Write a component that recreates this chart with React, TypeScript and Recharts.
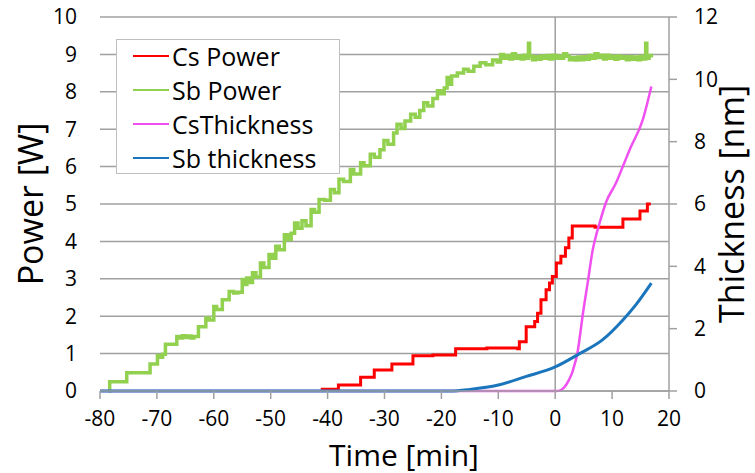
import React from 'react';
import { LineChart, Line, XAxis, YAxis, CartesianGrid, ReferenceLine, Legend } from 'recharts';

const timeTicks = [-80, -70, -60, -50, -40, -30, -20, -10, 0, 10, 20];
const powerTicks = [0, 1, 2, 3, 4, 5, 6, 7, 8, 9, 10];
const thicknessTicks = [0, 2, 4, 6, 8, 10, 12];

// [time min, power W]
const csPower: [number, number][] = [
  [-41.2, 0.05], [-38.1, 0.16], [-34.2, 0.37], [-31.8, 0.56], [-28.7, 0.72], [-25, 0.94],
  [-21.5, 0.96], [-17.5, 1.13], [-12, 1.15], [-6.6, 1.13], [-6.3, 1.32], [-5.1, 1.72],
  [-3.6, 1.86], [-3.1, 2.08], [-2.5, 2.44], [-1.6, 2.71], [-1.0, 2.89], [-0.5, 3.06],
  [0.2, 3.42], [1.0, 3.6], [1.8, 3.83], [2.4, 4.09], [3.0, 4.41], [7, 4.38], [11.9, 4.6],
  [14.9, 4.81], [16.2, 5.0], [16.8, 5.0],
];

const sbPower: [number, number][] = [
  [-78.4, 0], [-78.3, 0.25], [-75.3, 0.49], [-71.2, 0.72], [-69.9, 0.95], [-69.5, 0.9],
  [-69.0, 0.98], [-68.5, 1.25], [-66.5, 1.46], [-66.0, 1.42], [-65.5, 1.48], [-65, 1.43],
  [-64.5, 1.47], [-64, 1.42], [-63.5, 1.46], [-62.7, 1.72], [-61.4, 1.95], [-60.8, 1.9],
  [-60, 2.26], [-59.5, 2.18], [-58.5, 2.44], [-57.3, 2.66], [-56.5, 2.62], [-55.8, 2.64],
  [-55, 2.98], [-54.6, 2.85], [-54.2, 3.02], [-53.8, 2.9], [-53.2, 3.16], [-52.6, 3.05],
  [-51.8, 3.42], [-51.2, 3.3], [-50.3, 3.65], [-49.7, 3.55], [-49.1, 3.87], [-48.5, 3.78],
  [-47.6, 4.18], [-47, 4.05], [-46.4, 4.22], [-45.8, 4.49], [-45.2, 4.35], [-44.5, 4.55],
  [-43.8, 4.42], [-42.9, 4.85], [-42.3, 4.78], [-41.5, 5.12], [-40.5, 5.1], [-39.5, 5.39],
  [-38.8, 5.3], [-38, 5.66], [-37.2, 5.6], [-36, 5.92], [-35.4, 5.8], [-34.2, 6.1],
  [-33.6, 6.02], [-32.5, 6.33], [-31.8, 6.25], [-30.8, 6.45], [-30.1, 6.7], [-29.4, 6.6],
  [-28.4, 6.9], [-27.8, 7.13], [-27.1, 7.02], [-26.4, 7.22], [-25.4, 7.4], [-24.6, 7.32],
  [-23.8, 7.5], [-23.1, 7.71], [-22.4, 7.62], [-21.5, 7.82], [-20.7, 8.03], [-20.1, 7.95],
  [-19.5, 8.1], [-19, 8.38], [-18.6, 8.2], [-18.2, 8.42], [-17.2, 8.5], [-16.1, 8.6],
  [-15.3, 8.55], [-14.3, 8.68], [-13.2, 8.78], [-12.2, 8.72], [-11, 8.85], [-10.2, 8.8],
  [-9.6, 9.0], [-9.1, 8.9], [-8.5, 8.97], [-8.0, 8.88], [-7.5, 9.02], [-7.0, 8.9],
  [-6.5, 8.96], [-6.0, 8.88], [-5.5, 8.98], [-4.9, 8.9], [-4.7, 9.3], [-4.5, 8.95],
  [-4.0, 8.86], [-3.5, 8.94], [-3.0, 8.87], [-2.5, 8.96], [-2.0, 8.9], [-1.5, 8.97],
  [-1.0, 8.88], [-0.5, 8.98], [0, 8.9], [0.5, 8.96], [1.0, 8.9], [1.5, 9.02], [2.0, 8.95],
  [2.5, 8.86], [3.0, 8.92], [3.5, 8.85], [4.0, 8.93], [4.5, 8.86], [5.0, 8.94], [5.5, 8.87],
  [6, 8.97], [6.5, 8.9], [7, 9.02], [7.5, 8.92], [8, 8.98], [8.5, 8.88], [9, 8.98],
  [9.5, 8.9], [10, 8.95], [10.5, 8.87], [11, 8.96], [11.5, 8.9], [12, 8.94], [12.5, 8.86],
  [13, 8.94], [13.5, 8.87], [14, 8.93], [14.5, 8.86], [15, 8.95], [15.5, 8.88],
  [15.9, 9.3], [16.1, 8.9], [16.5, 8.97], [16.9, 8.92],
];

// [time min, thickness nm]
const csThickness: [number, number][] = [
  [-80, 0], [0.2, 0], [1.0, 0.03], [1.6, 0.12], [2.4, 0.35], [3.0, 0.6], [3.3, 0.78],
  [3.9, 1.21], [4.3, 1.7], [4.8, 2.39], [5.7, 3.46], [6.6, 4.53], [7.2, 5.0], [7.8, 5.39],
  [8.9, 6.04], [10.7, 6.68], [11.9, 7.21], [13.1, 7.75], [15.4, 8.71], [16.9, 9.77],
];

const sbThickness: [number, number][] = [
  [-80, 0], [-18.4, 0], [-15, 0.05], [-10, 0.19], [-5.2, 0.46], [0.1, 0.78], [4.2, 1.19],
  [8.3, 1.64], [11.9, 2.28], [14.2, 2.77], [16.9, 3.46],
];

const font = '"Open Sans", sans-serif';
const toPoints = (pairs: [number, number][]) => pairs.map(([x, y]) => ({ x, y }));

const series = [
  { name: 'Cs Power', color: '#ff0000', data: csPower, axis: 'left', type: 'stepAfter', width: 3 },
  { name: 'Sb Power', color: '#92d050', data: sbPower, axis: 'left', type: 'stepAfter', width: 3.5 },
  { name: 'CsThickness', color: '#f050f0', data: csThickness, axis: 'right', type: 'monotone', width: 2.5 },
  { name: 'Sb thickness', color: '#1a75bc', data: sbThickness, axis: 'right', type: 'monotone', width: 3 },
];

const renderLegend = () => (
  <div style={{ position: 'relative', width: 224, height: 135, boxSizing: 'border-box', border: '1px solid #bfbfbf', background: '#fff', fontFamily: font, fontSize: 25 }}>
    {series.map((s, i) => (
      <div key={s.name} style={{ position: 'absolute', left: 0, top: 16 + i * 34 - 17, height: 34, display: 'flex', alignItems: 'center' }}>
        <div style={{ marginLeft: 16, width: 36, height: 2.5, background: s.color }} />
        <span style={{ marginLeft: 3, lineHeight: '34px', color: '#000' }}>{s.name}</span>
      </div>
    ))}
  </div>
);

const App: React.FC = () => {
  const tickStyle = { fill: '#000', fontSize: 21, fontFamily: font };
  return (
    <div style={{ position: 'absolute', left: 0, top: 0, background: '#fff' }}>
      <LineChart width={755} height={473} margin={{ top: 17, right: 0, bottom: 0, left: 0 }}>
        <CartesianGrid yAxisId="left" vertical={false} stroke="#a0a0a0" strokeWidth={1.5} />
        <XAxis
          type="number"
          dataKey="x"
          domain={[-80, 20]}
          ticks={timeTicks}
          allowDataOverflow
          height={82}
          stroke="#a0a0a0"
          strokeWidth={1.5}
          tickSize={8}
          tickMargin={12}
          tick={tickStyle}
          label={{
            content: () => (
              <text x={404} y={454} textAnchor="middle" dominantBaseline="central" fontFamily={font} fontSize={30} fill="#000">Time [min]</text>
            ),
          }}
        />
        <YAxis
          yAxisId="left"
          domain={[0, 10]}
          ticks={powerTicks}
          width={100}
          axisLine={false}
          tickLine={false}
          tickSize={6}
          tickMargin={17}
          tick={tickStyle}
          label={{
            content: () => (
              <text x={30} y={204} transform="rotate(-90 30 204)" textAnchor="middle" dominantBaseline="central" fontFamily={font} fontSize={34} fill="#000">Power [W]</text>
            ),
          }}
        />
        <YAxis
          yAxisId="right"
          orientation="right"
          domain={[0, 12]}
          ticks={thicknessTicks}
          width={86}
          stroke="#a0a0a0"
          strokeWidth={1.5}
          tickSize={8}
          tickMargin={17}
          tick={tickStyle}
          label={{
            content: () => (
              <text x={731} y={204} transform="rotate(-90 731 204)" textAnchor="middle" dominantBaseline="central" fontFamily={font} fontSize={34} fill="#000">Thickness [nm]</text>
            ),
          }}
        />
        <ReferenceLine yAxisId="left" x={0} stroke="#a0a0a0" strokeWidth={1.5} />
        <Legend
          layout="horizontal"
          align="center"
          verticalAlign="middle"
          content={renderLegend}
          wrapperStyle={{ left: 116, top: 39, width: 224, height: 135 }}
        />
        {series.map((s) => (
          <Line
            key={s.name}
            yAxisId={s.axis}
            data={toPoints(s.data)}
            dataKey="y"
            name={s.name}
            type={s.type as any}
            stroke={s.color}
            strokeWidth={s.width}
            dot={false}
            activeDot={false}
            isAnimationActive={false}
          />
        ))}
      </LineChart>
    </div>
  );
};

export default App;
